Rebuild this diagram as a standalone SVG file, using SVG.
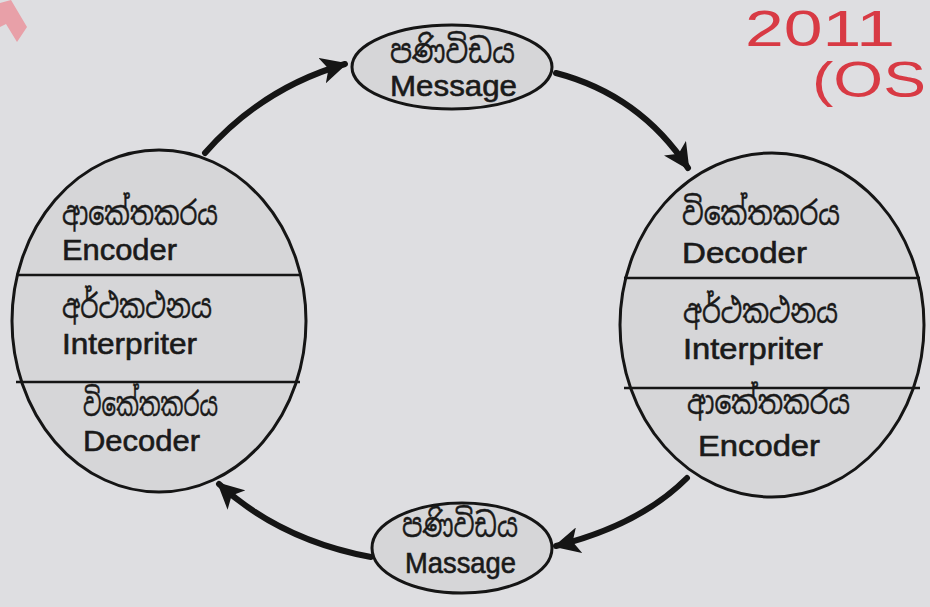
<svg xmlns="http://www.w3.org/2000/svg" width="930" height="607" viewBox="0 0 930 607">
<style>
.node{fill:#d6d6d8;stroke:#151515;stroke-width:3}
.div{stroke:#151515;stroke-width:2.5}
.lat{font-family:"Liberation Sans",Arial,sans-serif;font-size:29px;fill:#1a1a1a;stroke:#1a1a1a;stroke-width:0.6}
.sin{font-family:"Noto Sans Sinhala","Noto Serif Sinhala","Iskoola Pota","Lohit Sinhala","Noto Sans",sans-serif;font-size:33px;fill:#1a1a1a;stroke:#1a1a1a;stroke-width:0.4}
.conn{fill:none;stroke:#151515;stroke-width:6;stroke-linecap:round}
.red{font-family:"Liberation Sans",Arial,sans-serif;fill:#d83a44}
</style>
<defs>
<marker id="ah" viewBox="0 0 10 10" refX="9" refY="5" markerWidth="4.4" markerHeight="4.4" orient="auto" markerUnits="strokeWidth">
<path d="M0,0 L10,5 L0,10 L2.5,5 Z" fill="#151515"/>
</marker>
</defs>
<rect width="930" height="607" fill="#dedee1"/>
<polygon points="0,3 11,0 27,27 17,42 6,24 0,27" fill="#e8a0a8"/>
<text class="red" x="745" y="46" font-size="50" textLength="150" lengthAdjust="spacingAndGlyphs">2011</text>
<text class="red" x="812" y="97" font-size="50" textLength="114" lengthAdjust="spacingAndGlyphs">(OS</text>

<g id="connectors">
<path class="conn" d="M205,153 Q262,88 345,64" marker-end="url(#ah)"/>
<path class="conn" d="M556,73 Q640,95 688,168" marker-end="url(#ah)"/>
<path class="conn" d="M687,478 Q640,525 556,546" marker-end="url(#ah)"/>
<path class="conn" d="M371,557 Q280,540 219,484" marker-end="url(#ah)"/>
</g>

<g id="msg-top">
<ellipse class="node" cx="452" cy="67" rx="100" ry="42"/>
<text class="sin" x="390" y="63" font-size="31" textLength="125" lengthAdjust="spacingAndGlyphs">පණිවිඩය</text>
<text class="lat" x="390" y="96" textLength="127" lengthAdjust="spacingAndGlyphs">Message</text>
</g>

<g id="msg-bottom">
<ellipse class="node" cx="462" cy="548" rx="90" ry="45"/>
<text class="sin" x="402" y="537" font-size="27" textLength="116" lengthAdjust="spacingAndGlyphs">පණිවිඩය</text>
<text class="lat" x="405" y="573" font-size="28" textLength="111" lengthAdjust="spacingAndGlyphs">Massage</text>
</g>

<g id="left-party">
<ellipse class="node" cx="159" cy="321" rx="147" ry="171"/>
<line class="div" x1="16" y1="275" x2="300" y2="275"/>
<line class="div" x1="16" y1="382" x2="300" y2="382"/>
<text class="sin" x="62" y="225" textLength="156" lengthAdjust="spacingAndGlyphs">ආකේතකරය</text>
<text class="lat" x="62" y="260" textLength="115" lengthAdjust="spacingAndGlyphs">Encoder</text>
<text class="sin" x="62" y="318" textLength="150" lengthAdjust="spacingAndGlyphs">අර්ථකථනය</text>
<text class="lat" x="62" y="354" textLength="135" lengthAdjust="spacingAndGlyphs">Interpriter</text>
<text class="sin" x="83" y="416" textLength="135" lengthAdjust="spacingAndGlyphs">විකේතකරය</text>
<text class="lat" x="83" y="451" textLength="117" lengthAdjust="spacingAndGlyphs">Decoder</text>
</g>

<g id="right-party">
<ellipse class="node" cx="772" cy="325" rx="152" ry="172"/>
<line class="div" x1="624" y1="278" x2="920" y2="278"/>
<line class="div" x1="624" y1="388" x2="920" y2="388"/>
<text class="sin" x="682" y="225" textLength="158" lengthAdjust="spacingAndGlyphs">විකේතකරය</text>
<text class="lat" x="682" y="263" textLength="125" lengthAdjust="spacingAndGlyphs">Decoder</text>
<text class="sin" x="683" y="323" textLength="155" lengthAdjust="spacingAndGlyphs">අර්ථකථනය</text>
<text class="lat" x="683" y="359" textLength="140" lengthAdjust="spacingAndGlyphs">Interpriter</text>
<text class="sin" x="687" y="414" textLength="163" lengthAdjust="spacingAndGlyphs">ආකේතකරය</text>
<text class="lat" x="698" y="456" textLength="122" lengthAdjust="spacingAndGlyphs">Encoder</text>
</g>
</svg>
